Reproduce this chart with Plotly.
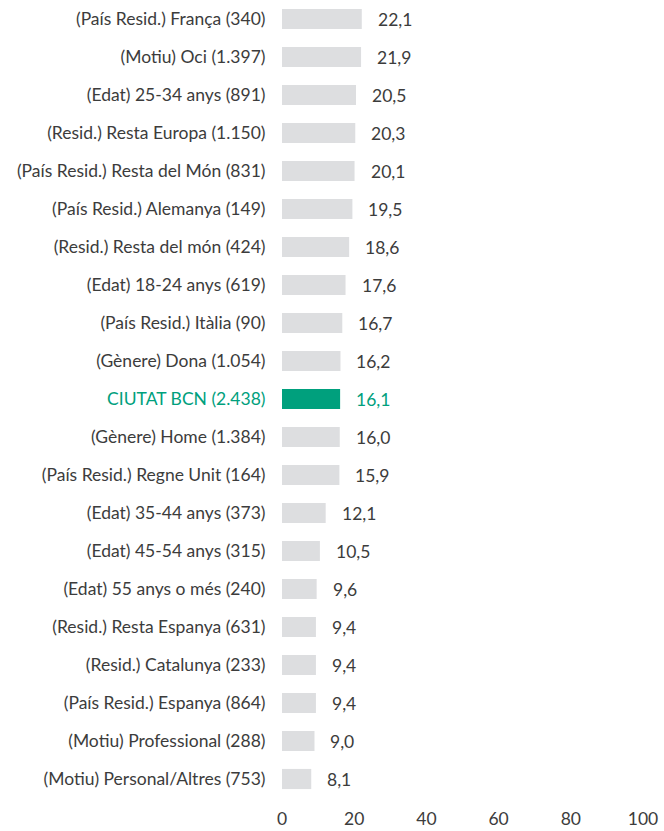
import plotly.graph_objects as go

categories = [
    "(País Resid.) França (340)",
    "(Motiu) Oci (1.397)",
    "(Edat) 25-34 anys (891)",
    "(Resid.) Resta Europa (1.150)",
    "(País Resid.) Resta del Món (831)",
    "(País Resid.) Alemanya (149)",
    "(Resid.) Resta del món (424)",
    "(Edat) 18-24 anys (619)",
    "(País Resid.) Itàlia (90)",
    "(Gènere) Dona (1.054)",
    "CIUTAT BCN (2.438)",
    "(Gènere) Home (1.384)",
    "(País Resid.) Regne Unit (164)",
    "(Edat) 35-44 anys (373)",
    "(Edat) 45-54 anys (315)",
    "(Edat) 55 anys o més (240)",
    "(Resid.) Resta Espanya (631)",
    "(Resid.) Catalunya (233)",
    "(País Resid.) Espanya (864)",
    "(Motiu) Professional (288)",
    "(Motiu) Personal/Altres (753)",
]
values = [22.1, 21.9, 20.5, 20.3, 20.1, 19.5, 18.6, 17.6, 16.7, 16.2, 16.1,
          16.0, 15.9, 12.1, 10.5, 9.6, 9.4, 9.4, 9.4, 9.0, 8.1]
highlight = "CIUTAT BCN (2.438)"
x_ticks = [0, 20, 40, 60, 80, 100]

GREEN = "#00A07D"
GREY = "#DDDEE0"
TEXT = "#3C3C3C"
FS = 17.5

colors = [GREEN if c == highlight else GREY for c in categories]
ticktext = [f"<span style='color:{GREEN}'>{c}</span>" if c == highlight else c for c in categories]

fig = go.Figure(go.Bar(
    x=values, y=categories, orientation="h",
    marker=dict(color=colors, line=dict(width=0)),
    hoverinfo="skip",
))

for c, v in zip(categories, values):
    fig.add_annotation(
        x=v, y=c, text=f"{v:.1f}".replace(".", ","),
        showarrow=False, xanchor="left", xshift=14,
        font=dict(size=FS, color=GREEN if c == highlight else TEXT),
    )

fig.update_layout(
    width=664, height=831,
    margin=dict(l=282, r=21, t=0, b=33, autoexpand=False),
    paper_bgcolor="white", plot_bgcolor="white",
    font=dict(family="Lato, Open Sans, sans-serif", size=FS, color=TEXT),
    bargap=0.47,
    showlegend=False,
    xaxis=dict(range=[0, 100], tickvals=x_ticks, showgrid=False, zeroline=False,
               showline=False, ticks="outside", ticklen=5, tickcolor="rgba(0,0,0,0)",
               automargin=False),
    yaxis=dict(categoryorder="array", categoryarray=categories, autorange="reversed",
               tickvals=categories, ticktext=ticktext, showgrid=False, zeroline=False,
               showline=False, ticks="outside", ticklen=12, tickcolor="rgba(0,0,0,0)",
               automargin=False),
)

fig.write_html("out.html", config={"displayModeBar": False},
               post_script="document.body.style.margin='0';document.body.style.padding='0';")
